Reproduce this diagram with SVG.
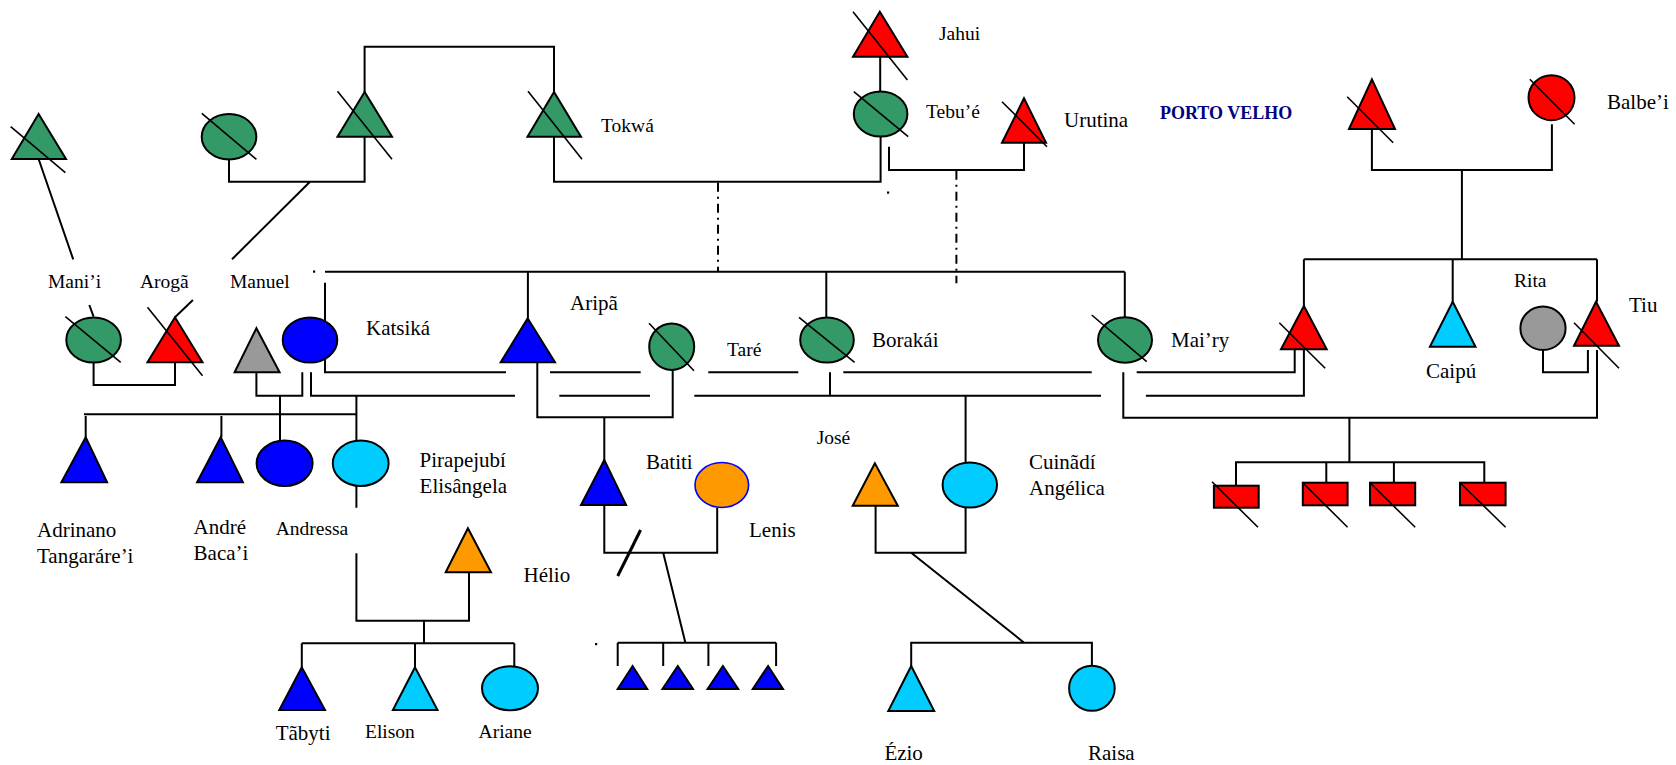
<svg xmlns="http://www.w3.org/2000/svg" width="1676" height="765" viewBox="0 0 1676 765">
<style>
.ln{stroke:#000;stroke-width:2;fill:none}
.dd{stroke:#000;stroke-width:2;fill:none;stroke-dasharray:9,5,2,5}
.nd{stroke:#000;stroke-width:2}
.x{stroke:#000;stroke-width:1.6;fill:none}
.g{fill:#339966}.r{fill:#ff0000}.b{fill:#0000ff}.c{fill:#00ccff}.gr{fill:#999999}.o{fill:#ff9900}
text{font-family:"Liberation Serif","Times New Roman",serif;fill:#000;font-size:21px}
.s{font-size:19.5px}
.pv{font-weight:bold;fill:#000080;font-size:18px}
</style>
<rect width="1676" height="765" fill="#fff"/>
<g id="connectors">
<path class="ln" d="M38.6,159 L73.2,259.3 M89.3,305 L93.6,316.7 M192.9,300 L175,317.3"/>
<path class="ln" d="M229,159.3 V181.7 H364.6 V136.7 M310,181.7 L232,259.3"/>
<path class="ln" d="M364.6,92 V46.7 H554 V92"/>
<path class="ln" d="M554,136.7 V181.7 H880.6 V136.7 M880.2,56.7 V91.7 M889,146.7 V170 H1024 V142.7"/>
<path class="dd" d="M718,182.7 V271.7 M956.4,170.7 V283.3"/>
<path class="ln" d="M325,271.7 H1124.8 M325,282.7 V328.3 M527.9,271.7 V318.3 M826.3,271.7 V317.5 M1124.8,271.7 V317.3"/>
<path class="ln" d="M1371.9,129 V170 H1551.9 V124.3 M1461.9,170 V259.3 M1303.9,259.3 H1597 M1303.9,259.3 V306 M1452.7,259.3 V301.7 M1597,259.3 V301.7"/>
<path class="ln" d="M93.6,362.3 V385 H175 V362.3"/>
<path class="ln" d="M325,350 V372.3 H506 M550,372.3 H640.7 M708.3,372.3 H798.3 M843.3,372.3 H1091.7 M1136.7,372.3 H1294.7 V350"/>
<path class="ln" d="M256.4,372.3 V395.7 H302.3 V372.3 M311,372.3 V395.7 H515 M559.3,395.7 H650 M694.3,395.7 H1101 M1145.9,395.7 H1303.9 V349.3"/>
<path class="ln" d="M830,372.3 V395.7 M965.6,395.7 V462.7"/>
<path class="ln" d="M537.3,350 V417.3 H672.7 V370 M604.3,417.3 V460"/>
<path class="ln" d="M1123.3,372.3 V417.7 H1597 V350 M1543,350 V372.3 H1587.9 V350"/>
<path class="ln" d="M1349.4,417.7 V462.3 M1236,485.3 V462.3 H1484.3 V485 M1326.3,462.3 V486 M1393.9,462.3 V486"/>
<path class="ln" d="M84,414.3 H356.4 M280,395.7 V440.7 M356.4,395.7 V440.7 M85.7,416 V437.3 M221.4,416 V437.3"/>
<path class="ln" d="M356.4,486 V507.7 M356.4,553.3 V620.7 H469 V572.3 M424,620.7 V643.3 M301.8,643.3 H514.3 M301.8,643.3 V667.3 M415,643.3 V667.3 M514.3,643.3 V666.3"/>
<path class="ln" d="M604.3,505 V552.7 H717.2 V507.5 M663.2,552.7 L685.4,642.7 M617.7,642.7 H776.1 M617.7,642.7 V666 M663.2,642.7 V666 M708.4,642.7 V666 M776.1,642.7 V666"/>
<path d="M640.6,530 L617.7,576" stroke="#000" stroke-width="3"/>
<path class="ln" d="M875.6,505.7 V552.7 H965.6 V507.5 M911.2,552.7 L1024.1,642.7 M911.2,666 V642.7 H1091.9 V666"/>
<rect x="313" y="270.5" width="2.2" height="2.2" fill="#000"/>
<rect x="887" y="191.5" width="2.2" height="2.2" fill="#000"/>
<rect x="595" y="643" width="2.2" height="2.2" fill="#000"/>
</g>
<g id="mani_father"><polygon class="nd g" points="38.6,114 11.8,159 66,159"/><line class="x" x1="10.7" y1="126.7" x2="65.4" y2="172.7"/></g>
<g id="manuel_mother"><ellipse class="nd g" cx="229" cy="136.7" rx="27.3" ry="22.7"/><line class="x" x1="201.8" y1="113.3" x2="256.4" y2="159.3"/></g>
<g id="manuel_father"><polygon class="nd g" points="364.6,92 337.5,136.7 392,136.7"/><line class="x" x1="337.5" y1="91.3" x2="392" y2="159.3"/></g>
<g id="tokwa"><polygon class="nd g" points="554,92 527.5,136.7 581,136.7"/><line class="x" x1="528" y1="91.3" x2="582" y2="159.3"/><text class="s" x="601" y="132">Tokwá</text></g>
<g id="jahui"><polygon class="nd r" points="879.8,11.7 853,56.7 907.4,56.7"/><line class="x" x1="853" y1="11.7" x2="907.4" y2="80"/><text class="s" x="939" y="40">Jahui</text></g>
<g id="tebue"><ellipse class="nd g" cx="880.6" cy="114" rx="26.8" ry="22.5"/><line class="x" x1="853.8" y1="91.7" x2="908.2" y2="136.7"/><text class="s" x="926" y="118">Tebu’é</text></g>
<g id="urutina"><polygon class="nd r" points="1024,98.3 1002,142.7 1046,142.7"/><line class="x" x1="1002" y1="101.7" x2="1047" y2="146.7"/><text x="1064" y="127">Urutina</text></g>
<g id="porto_velho"><text class="pv" x="1160" y="119">PORTO VELHO</text></g>
<g id="pv_father"><polygon class="nd r" points="1371.9,79.3 1349,129 1395,129"/><line class="x" x1="1347.2" y1="96.7" x2="1393.2" y2="142.7"/></g>
<g id="balbei"><ellipse class="nd r" cx="1551.5" cy="97.7" rx="23" ry="22.5"/><line class="x" x1="1529.8" y1="79.3" x2="1574.6" y2="124.3"/><text x="1607" y="109">Balbe’i</text></g>
<g id="mani_i"><ellipse class="nd g" cx="93.6" cy="340" rx="27.3" ry="22.5"/><line class="x" x1="65.4" y1="316.7" x2="120.7" y2="362.3"/><text class="s" x="48" y="288">Mani’i</text></g>
<g id="aroga"><polygon class="nd r" points="175,317.3 147.5,362.3 202.5,362.3"/><line class="x" x1="147.5" y1="307.3" x2="202.5" y2="375.7"/><text class="s" x="140" y="288">Arogã</text></g>
<g id="manuel"><polygon class="nd gr" points="256.4,328.3 234.6,372.3 279.6,372.3"/><text class="s" x="230" y="288">Manuel</text></g>
<g id="katsika"><ellipse class="nd b" cx="310" cy="340" rx="27.3" ry="22.5"/><text x="366" y="335">Katsiká</text></g>
<g id="aripa"><polygon class="nd b" points="527.7,318.3 500.7,362.3 555,362.3"/><text x="570" y="310">Aripã</text></g>
<g id="tare"><ellipse class="nd g" cx="671.7" cy="346.7" rx="22.5" ry="23.3"/><line class="x" x1="649" y1="323.3" x2="694" y2="370.7"/><text class="s" x="727" y="356">Taré</text></g>
<g id="borakai"><ellipse class="nd g" cx="827" cy="340" rx="26.8" ry="22.5"/><line class="x" x1="799" y1="317.3" x2="854.6" y2="362.3"/><text x="872" y="347">Borakái</text></g>
<g id="mairy"><ellipse class="nd g" cx="1125" cy="340" rx="27" ry="22.7"/><line class="x" x1="1091.7" y1="315" x2="1146.7" y2="361.7"/><text x="1171" y="347">Mai’ry</text></g>
<g id="mairy_husband"><polygon class="nd r" points="1303.9,306 1281,349.3 1326.7,349.3"/><line class="x" x1="1279.3" y1="322.7" x2="1325.2" y2="368.3"/></g>
<g id="caipu"><polygon class="nd c" points="1452.7,301.7 1429.9,346.7 1475.5,346.7"/><text x="1426" y="378">Caipú</text></g>
<g id="rita"><ellipse class="nd gr" cx="1543" cy="328.3" rx="22.6" ry="21.7"/><text class="s" x="1514" y="287">Rita</text></g>
<g id="tiu"><polygon class="nd r" points="1596,301.7 1574,345.7 1619,345.7"/><line class="x" x1="1574" y1="322.7" x2="1619" y2="368.3"/><text x="1629" y="312">Tiu</text></g>
<g id="adrinano"><polygon class="nd b" points="85.7,437.3 61.4,482.3 107.1,482.3"/><text x="37" y="537">Adrinano</text><text x="37" y="563">Tangaráre’i</text></g>
<g id="andre"><polygon class="nd b" points="220.7,437.3 197.1,482.3 242.9,482.3"/><text x="193.6" y="534">André</text><text x="193.6" y="560">Baca’i</text></g>
<g id="andressa"><ellipse class="nd b" cx="284.6" cy="463.3" rx="28" ry="22.7"/><text class="s" x="275.7" y="535">Andressa</text></g>
<g id="pirapejubi"><ellipse class="nd c" cx="360.7" cy="463.3" rx="27.9" ry="22.7"/><text x="419.6" y="467">Pirapejubí</text><text x="419.6" y="493">Elisângela</text></g>
<g id="helio"><polygon class="nd o" points="467.9,528.3 445.7,572.3 491,572.3"/><text x="523.5" y="582">Hélio</text></g>
<g id="tabyti"><polygon class="nd b" points="301.8,667.3 279.3,710 325,710"/><text x="275.7" y="740">Tãbyti</text></g>
<g id="elison"><polygon class="nd c" points="415,667.3 392.9,710 437.5,710"/><text class="s" x="365" y="738">Elison</text></g>
<g id="ariane"><ellipse class="nd c" cx="510" cy="688.3" rx="28" ry="22"/><text class="s" x="478.6" y="738">Ariane</text></g>
<g id="batiti"><polygon class="nd b" points="604.3,460 581,505 626.1,505"/><text x="646" y="469">Batiti</text></g>
<g id="lenis"><ellipse class="o" cx="721.8" cy="485" rx="26.8" ry="22.5" stroke="#0000ff" stroke-width="1.6"/><text x="749" y="537">Lenis</text></g>
<g id="child1"><polygon class="nd b" points="632.6,666 617.7,689 647.2,689"/></g>
<g id="child2"><polygon class="nd b" points="677.8,666 662.5,689 693,689"/></g>
<g id="child3"><polygon class="nd b" points="722.9,666 707.6,689 738.2,689"/></g>
<g id="child4"><polygon class="nd b" points="768.1,666 752.8,689 783,689"/></g>
<g id="jose"><polygon class="nd o" points="874.9,463.3 852.7,505.7 897.8,505.7"/><text class="s" x="816.7" y="444">José</text></g>
<g id="cuinadi"><ellipse class="nd c" cx="969.8" cy="485" rx="27.2" ry="22.5"/><text x="1029" y="469">Cuinãdí</text><text x="1029" y="495">Angélica</text></g>
<g id="ezio"><polygon class="nd c" points="911.2,666 888.3,711 934.2,711"/><text x="884.4" y="760">Ézio</text></g>
<g id="raisa"><ellipse class="nd c" cx="1091.9" cy="688.3" rx="22.8" ry="22.5"/><text x="1088" y="760">Raisa</text></g>
<g id="sq1"><rect class="nd r" x="1213.9" y="485.7" width="44.8" height="22"/><line class="x" x1="1212" y1="481.7" x2="1258" y2="527.3"/></g>
<g id="sq2"><rect class="nd r" x="1302.8" y="482.7" width="44.8" height="22.6"/><line class="x" x1="1302.8" y1="482.7" x2="1347.6" y2="527.3"/></g>
<g id="sq3"><rect class="nd r" x="1370" y="482.7" width="45.2" height="22.6"/><line class="x" x1="1370" y1="482.7" x2="1415.2" y2="527.3"/></g>
<g id="sq4"><rect class="nd r" x="1460" y="482.7" width="45.6" height="22.6"/><line class="x" x1="1460" y1="482.7" x2="1505.6" y2="527.3"/></g>
</svg>
